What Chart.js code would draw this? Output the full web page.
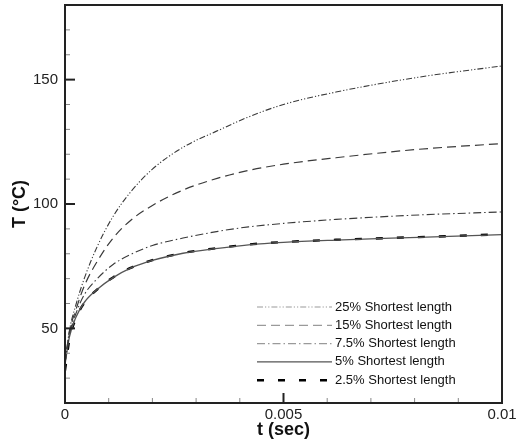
<!DOCTYPE html>
<html><head><meta charset="utf-8">
<script src="https://cdn.jsdelivr.net/npm/chart.js@4/dist/chart.umd.min.js"></script>
<style>html,body{margin:0;padding:0;background:#fff}#wrap{width:523px;height:441px}</style>
</head><body><div id="wrap"><canvas id="c" width="523" height="441"></canvas></div>
<script>
const timeSec  = [0, 0.0001, 0.00025, 0.00044, 0.00074, 0.0011, 0.0015, 0.002, 0.0027, 0.0035, 0.0042, 0.005, 0.0062, 0.0081, 0.01];
const temp25   = [36, 49, 59.5, 70, 83, 95, 104.8, 114, 122.8, 129.5, 135, 140, 145, 151, 155.5];
const temp15   = [36, 48.5, 57.5, 67, 77, 86.3, 93.4, 99.4, 105.6, 110.4, 113.5, 116, 118.6, 122, 124.3];
const temp7_5  = [36, 47.5, 56, 63.5, 70, 75.7, 79.7, 83.3, 86.3, 89, 90.8, 92.2, 93.8, 95.6, 96.8];
const temp5    = [35.5, 46.5, 54.5, 60.4, 65.7, 70.4, 74.2, 77.3, 80.2, 82.2, 83.6, 84.6, 85.5, 86.6, 87.7];
const temp2_5  = [33, 45.5, 54, 60.2, 65.7, 70.5, 74.3, 77.4, 80.3, 82.3, 83.7, 84.7, 85.6, 86.7, 87.8];
const seriesLabels = ['25% Shortest length', '15% Shortest length', '7.5% Shortest length', '5% Shortest length', '2.5% Shortest length'];
const xTickValues = [0, 0.005, 0.01];
const xTickLabels = ['0', '0.005', '0.01'];
const yTickValues = [50, 100, 150];
const yTickLabels = ['50', '100', '150'];
const xTitle = 't (sec)';
const yTitle = 'T (\u00B0C)';

const FONT = "'Liberation Sans', Arial, sans-serif";
const styles = [
  {color:'#3a3a3a', legend:'#9a9a9a', width:1.1, dash:[6,2,1.2,2,1.2,2]},
  {color:'#3a3a3a', legend:'#9a9a9a', width:1.2, dash:[9,5]},
  {color:'#3a3a3a', legend:'#9a9a9a', width:1.1, dash:[8,3,1.5,3]},
  {color:'#555555', legend:'#555555', width:1.3, dash:[]},
  {color:'#000000', legend:'#000000', width:2.4, dash:[7,14]}
];
const seriesValues = [temp25, temp15, temp7_5, temp5, temp2_5];

function findLabel(v, vals, labs){
  for (let i=0;i<vals.length;i++){ if (Math.abs(v-vals[i]) < 1e-9*Math.max(1,Math.abs(vals[i])) + 1e-12) return labs[i]; }
  return '';
}

const frameTicks = {
  id:'frameTicks',
  afterDraw(chart){
    const {ctx, chartArea:a, scales:{x, y}} = chart;
    ctx.save();
    x.ticks.forEach(t => {
      const px = x.getPixelForValue(t.value);
      const major = findLabel(t.value, xTickValues, xTickLabels) !== '';
      ctx.lineWidth = major ? 2 : 1;
      ctx.strokeStyle = major ? '#222' : '#888';
      ctx.beginPath(); ctx.moveTo(px, a.bottom); ctx.lineTo(px, a.bottom - (major ? 10 : 5)); ctx.stroke();
    });
    y.ticks.forEach(t => {
      const py = y.getPixelForValue(t.value);
      const major = findLabel(t.value, yTickValues, yTickLabels) !== '';
      ctx.lineWidth = major ? 2 : 1;
      ctx.strokeStyle = major ? '#222' : '#888';
      ctx.beginPath(); ctx.moveTo(a.left, py); ctx.lineTo(a.left + (major ? 10 : 5), py); ctx.stroke();
    });
    ctx.lineWidth = 2; ctx.strokeStyle = '#222';
    ctx.strokeRect(a.left, a.top, a.right - a.left, a.bottom - a.top);
    // legend
    const textX = a.right - 167;
    const lineX0 = textX - 78, lineX1 = textX - 3;
    const top = a.bottom - 96;
    ctx.font = '13px ' + FONT;
    ctx.textBaseline = 'middle';
    ctx.fillStyle = '#111';
    chart.data.datasets.forEach((ds, i) => {
      const yy = top + i * 18.3;
      const st = styles[i];
      ctx.setLineDash(st.dash);
      ctx.lineWidth = st.width;
      ctx.strokeStyle = st.legend;
      ctx.beginPath(); ctx.moveTo(lineX0, yy); ctx.lineTo(lineX1, yy); ctx.stroke();
      ctx.setLineDash([]);
      ctx.fillText(ds.label, textX, yy);
    });
    ctx.restore();
  }
};

const datasets = seriesLabels.map((lab, i) => ({
  label: lab,
  data: timeSec.map((t, j) => ({x: t, y: seriesValues[i][j]})),
  borderColor: styles[i].color,
  borderWidth: styles[i].width,
  borderDash: styles[i].dash,
  pointRadius: 0,
  fill: false,
  cubicInterpolationMode: 'monotone'
}));

new Chart(document.getElementById('c'), {
  type: 'line',
  data: {datasets},
  options: {
    responsive: false,
    animation: false,
    devicePixelRatio: 1,
    layout: {padding: {top: 5, right: 21, left: 0, bottom: 0}},
    plugins: {legend: {display: false}, tooltip: {enabled: false}},
    scales: {
      x: {
        type: 'linear', min: 0, max: 0.01,
        border: {display: false},
        grid: {display: true, drawOnChartArea: false, drawTicks: false, color: 'rgba(0,0,0,0)'},
        ticks: {
          stepSize: 0.001, autoSkip: false, maxRotation: 0, padding: 3,
          color: '#222', font: {family: FONT, size: 15},
          callback: v => findLabel(v, xTickValues, xTickLabels)
        },
        title: {display: true, text: xTitle, color: '#111', font: {family: FONT, size: 18, weight: 'bold'}, padding: {top: 0, bottom: 0}},
        afterFit: s => { s.height = 38; s.paddingLeft = 0; }
      },
      y: {
        type: 'linear', min: 20, max: 180,
        border: {display: false},
        grid: {display: true, drawOnChartArea: false, drawTicks: false, color: 'rgba(0,0,0,0)'},
        ticks: {
          stepSize: 10, autoSkip: false, padding: 7,
          color: '#222', font: {family: FONT, size: 15},
          callback: v => findLabel(v, yTickValues, yTickLabels)
        },
        title: {display: true, text: yTitle, color: '#111', font: {family: FONT, size: 18, weight: 'bold'}, padding: {top: 9, bottom: 0}},
        afterFit: s => { s.width = 65; s.paddingTop = 0; s.paddingBottom = 0; }
      }
    }
  },
  plugins: [frameTicks]
});
</script></body></html>
